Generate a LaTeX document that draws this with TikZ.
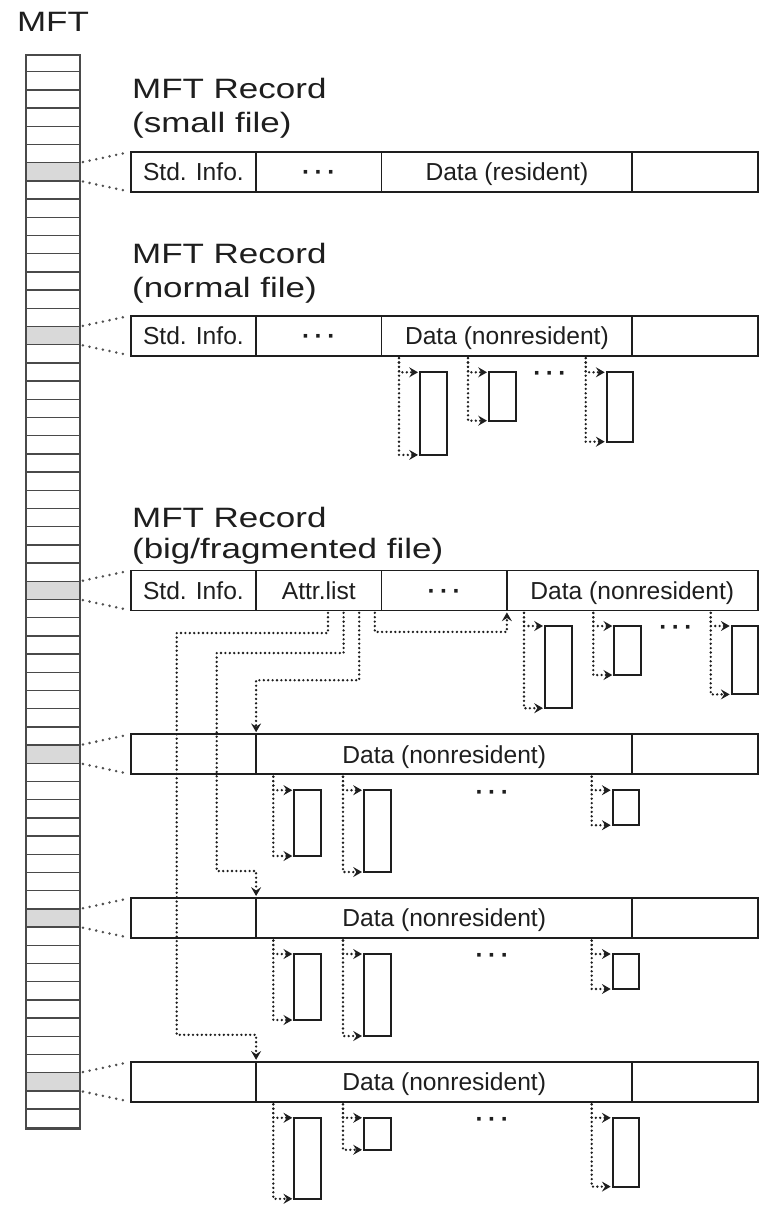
\documentclass[tikz,border=0pt]{standalone}
\usepackage{fontspec}
\setmainfont{Liberation Sans}
\newfontfamily\headfont[FakeStretch=1.25]{Liberation Sans}
\usetikzlibrary{arrows.meta,positioning,calc}
\definecolor{RecInk}{HTML}{1E1E1E}
\definecolor{TableRule}{HTML}{4A4A4A}
\definecolor{SlotGray}{HTML}{D9D9D9}
\definecolor{DotGray}{HTML}{505050}
\newcommand{\threedots}{{\bfseries ·\hspace{2.2pt}·\hspace{2.2pt}·}}

\begin{document}
\begin{tikzpicture}[x=0.5pt, y=-0.5pt,
  field/.style={draw=RecInk, line width=0.9pt, minimum width=62.7pt, minimum height=20pt,
                inner sep=0pt, outer sep=0pt, text height=8.8pt, text depth=0pt,
                font=\fontsize{12.3}{14}\selectfont, text=RecInk},
  wide/.style={minimum width=125.4pt},
  wider/.style={minimum width=188.1pt},
  run/.style={draw=RecInk, line width=1pt, minimum width=13.35pt,
              inner sep=0pt, outer sep=0pt, anchor=north west},
  gap/.style={inner sep=0pt, text height=8.8pt, text depth=0pt,
              font=\fontsize{12.3}{14}\selectfont, text=RecInk},
  head/.style={font=\headfont\fontsize{14}{17}\selectfont, text=RecInk,
               align=left, inner sep=0pt},
  slot/.style={fill=SlotGray, minimum width=27pt, minimum height=9.1pt,
               inner sep=0pt, outer sep=0pt},
  link/.style={DotGray, line width=1.4pt, line cap=round, dash pattern=on 0pt off 3.4pt,
               shorten <=1.5pt, shorten >=1.5pt},
  ptr/.style={RecInk, line width=1.3pt, line cap=round, dash pattern=on 0pt off 2.2pt,
              -{Stealth[length=4.4pt,width=5pt,inset=1.6pt]}, shorten >=1pt}]
  \useasboundingbox (0,0) rectangle (770,1210);

  % MFT table
  \node[head, anchor=base] (mftname) at (53,32) {MFT};
  \foreach \k in {6,15,29,38,47,56}
    \node[slot] (m\k) at (53,{53.5+(\k+0.5)*18.2}) {};
  \foreach \k in {1,...,58}
    \draw[TableRule, line width=0.7pt] (26,{53.5+\k*18.2}) -- (80,{53.5+\k*18.2});
  \node[draw=TableRule, line width=1.3pt, minimum width=27pt, minimum height=536.9pt,
        inner sep=0pt, anchor=north] (mft) at (53,53.5) {};

  % small file
  \node[field, anchor=west] (sm1) at (130.7,171.8) {Std. Info.};
  \node[field, right=0pt of sm1] (sm2) {\threedots};
  \node[field, wide, right=0pt of sm2] (sm3) {Data (resident)};
  \node[field, right=0pt of sm3] (sm4) {};
  \node[head, anchor=south west] (smhead) at ($(sm1.north west)+(1,-13)$)
       {MFT Record\\(small file)};

  % normal file
  \node[field, anchor=west] (nr1) at (130.7,335.6) {Std. Info.};
  \node[field, right=0pt of nr1] (nr2) {\threedots};
  \node[field, wide, right=0pt of nr2] (nr3) {Data (nonresident)};
  \node[field, right=0pt of nr3] (nr4) {};
  \node[head, anchor=south west] (nrhead) at ($(nr1.north west)+(1,-12)$)
       {MFT Record\\(normal file)};
  \node[run, minimum height=41.3pt] (nx1) at (420,372.3) {};
  \node[run, minimum height=24.2pt] (nx2) at (489,372.3) {};
  \node[gap] (nrgap) at (550,373) {\threedots};
  \node[run, minimum height=34.7pt] (nx3) at (606.7,372.3) {};

  % big/fragmented file
  \node[field, anchor=west] (bg1) at (130.7,590.4) {Std. Info.};
  \node[field, right=0pt of bg1] (bg2) {Attr.list};
  \node[field, right=0pt of bg2] (bg3) {\threedots};
  \node[field, wide, right=0pt of bg3] (bg4) {Data (nonresident)};
  \node[head, anchor=south west, font=\headfont\fontsize{14}{15.5}\selectfont] (bghead)
       at ($(bg1.north west)+(1,-6)$) {MFT Record\\(big/fragmented file)};
  \node[run, minimum height=41.1pt] (bx1) at (545,626) {};
  \node[run, minimum height=24.5pt] (bx2) at (614.3,626) {};
  \node[gap] (bggap) at (676,627) {\threedots};
  \node[run, minimum height=34.2pt] (bx3) at (731.7,626) {};

  % attribute records
  \foreach \i/\y in {1/754.2, 2/918, 3/1081.8} {
    \node[field, anchor=west] (a\i l) at (130.7,\y) {};
    \node[field, wider, right=0pt of a\i l] (a\i d) {Data (nonresident)};
    \node[field, right=0pt of a\i d] (a\i r) {};
    \node[gap] (a\i gap) at (492.3,\y+37) {\threedots};
  }
  \node[run, minimum height=32.9pt] (a1x1) at (294.3,790.2) {};
  \node[run, minimum height=40.9pt] (a1x2) at (364,790.2) {};
  \node[run, minimum height=17.5pt] (a1x3) at (612.7,790.2) {};
  \node[run, minimum height=33pt] (a2x1) at (294.3,954) {};
  \node[run, minimum height=41pt] (a2x2) at (364,954) {};
  \node[run, minimum height=17.5pt] (a2x3) at (612.7,954) {};
  \node[run, minimum height=40.5pt] (a3x1) at (294.3,1117.8) {};
  \node[run, minimum height=16pt] (a3x2) at (364,1117.8) {};
  \node[run, minimum height=34.4pt] (a3x3) at (612.7,1117.8) {};

  % MFT slots to records
  \foreach \k/\r in {6/sm1, 15/nr1, 29/bg1, 38/a1l, 47/a2l, 56/a3l} {
    \draw[link] (m\k.north east) -- (\r.north west);
    \draw[link] (m\k.south east) -- (\r.south west);
  }

  % runs
  \foreach \f/\e in {nr3/nx1, nr3/nx2, nr3/nx3, bg4/bx1, bg4/bx2, bg4/bx3,
                     a1d/a1x1, a1d/a1x2, a1d/a1x3, a2d/a2x1, a2d/a2x2, a2d/a2x3,
                     a3d/a3x1, a3d/a3x2, a3d/a3x3} {
    \draw[ptr] ($(\e.north west |- \f.south)+(-21,2.5)$) |- (\e.north west);
    \draw[ptr] ($(\e.north west |- \f.south)+(-21,2.5)$) |- (\e.south west);
  }

  % attribute list entries
  \draw[ptr] ([xshift=4.6pt,yshift=-1.2pt]bg2.south) |- (176.7,633) |- ($(a3d.north west)+(0,-27)$) -- (a3d.north west);
  \draw[ptr] ([xshift=12.4pt,yshift=-1.2pt]bg2.south) |- (216.7,653) |- ($(a2d.north west)+(0,-27)$) -- (a2d.north west);
  \draw[ptr] ([xshift=20.2pt,yshift=-1.2pt]bg2.south) |- ($(a1d.north west)+(0,-54)$) -- (a1d.north west);
  \draw[ptr] ([xshift=28pt,yshift=-1.2pt]bg2.south) |- ($(bg4.south west)+(0,21.5)$) -- (bg4.south west);
\end{tikzpicture}
\end{document}
